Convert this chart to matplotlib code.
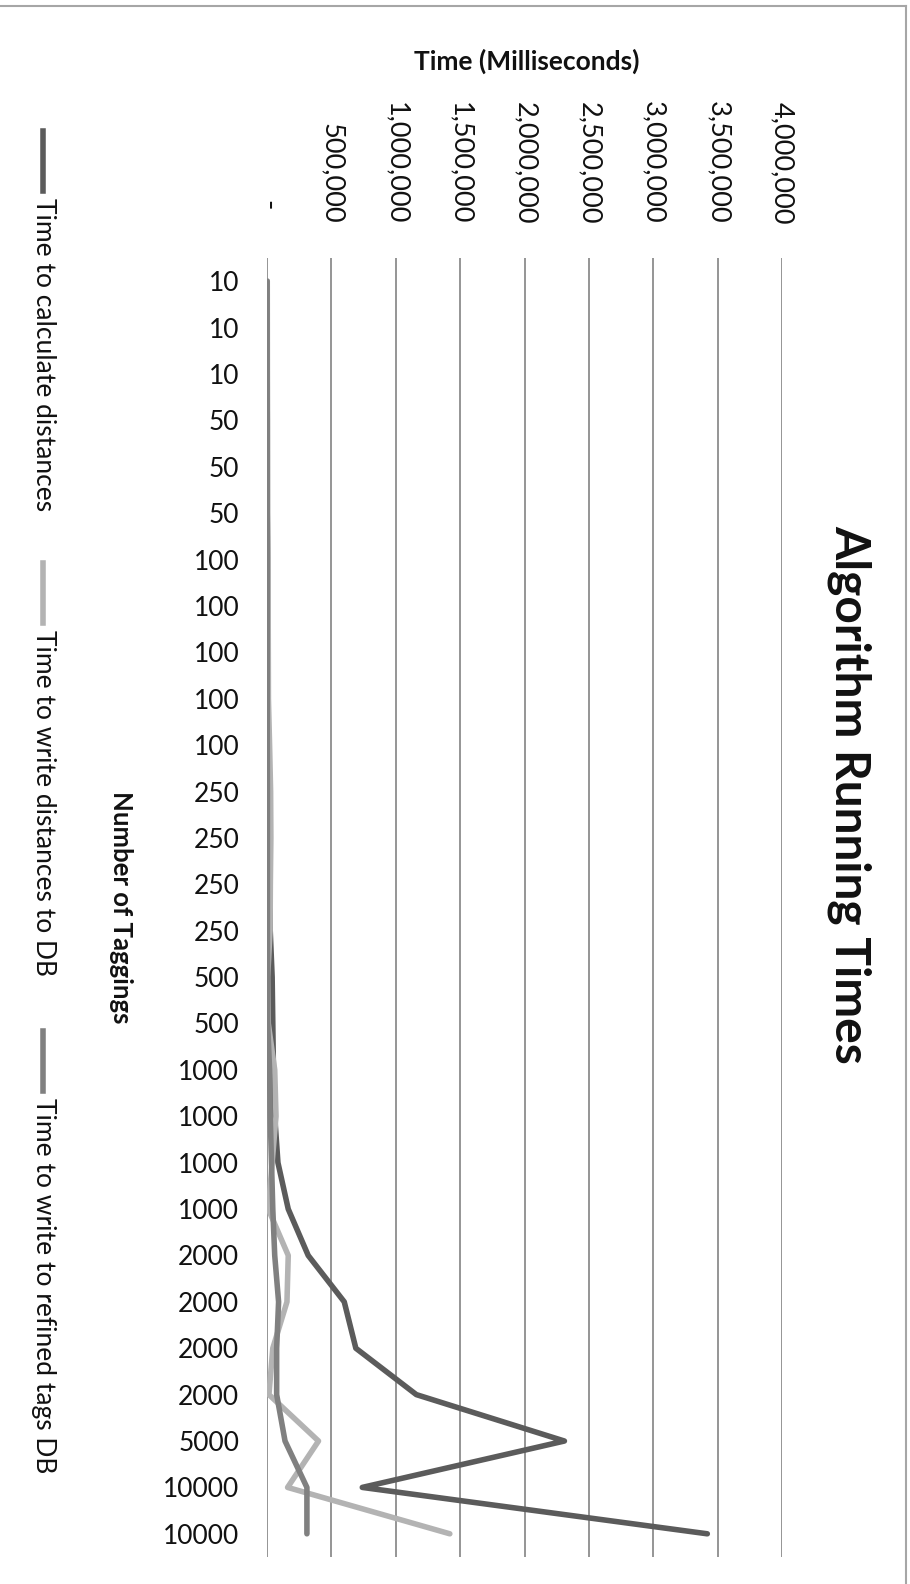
import matplotlib
matplotlib.use("Agg")
import matplotlib.pyplot as plt
import matplotlib.transforms as mtransforms
from matplotlib.lines import Line2D

plt.rcParams["font.family"] = ["Lato", "DejaVu Sans"]

# Number of taggings per run (category axis)
taggings = ["10", "10", "10", "50", "50", "50",
            "100", "100", "100", "100", "100",
            "250", "250", "250", "250", "500", "500",
            "1000", "1000", "1000", "1000",
            "2000", "2000", "2000", "2000",
            "5000", "10000", "10000"]

# Running times in milliseconds
calc_distances = [500, 600, 700, 2000, 2100, 2200,
                  5000, 5200, 5400, 5100, 5300,
                  20000, 22000, 24000, 25000, 40000, 45000,
                  50000, 60000, 85000, 165000,
                  320000, 600000, 690000, 1160000,
                  2310000, 740000, 3420000]
write_distances = [2000, 2500, 3000, 4000, 4500, 5000,
                   8000, 9000, 10000, 11000, 20000,
                   28000, 30000, 26000, 24000, 5000, 10000,
                   60000, 70000, 40000, 10000,
                   165000, 155000, 45000, 15000,
                   400000, 160000, 1420000]
write_refined = [1000, 1000, 1000, 1500, 1500, 1500,
                 2000, 2000, 2000, 2000, 2000,
                 3000, 3000, 3000, 3000, 5000, 5000,
                 20000, 25000, 35000, 45000,
                 60000, 90000, 75000, 75000,
                 140000, 310000, 310000]

series_names = ["Time to calculate distances",
                "Time to write distances to DB",
                "Time to write to refined tags DB"]
series_colors = ["#5b5b5b", "#b3b3b3", "#808080"]

value_ticks = [0, 500000, 1000000, 1500000, 2000000,
               2500000, 3000000, 3500000, 4000000]

W, H = 910, 1584
fig = plt.figure(figsize=(W / 100, H / 100), dpi=100)
fig.patch.set_facecolor("white")


def fx(px):
    return px / W


def fy(py):
    return 1 - py / H


# plot area
left, right, top, bottom = 267, 782, 258, 1557
ax = fig.add_axes([fx(left), fy(bottom), (right - left) / W, (bottom - top) / H])
ax.set_xlim(0, 4000000)
n = len(taggings)
ax.set_ylim(n - 0.5, -0.5)
for s in ax.spines.values():
    s.set_visible(False)

ax.set_xticks(value_ticks)
ax.xaxis.grid(True, color="#8c8c8c", linewidth=1.3)
ax.set_axisbelow(True)
ax.tick_params(axis="x", length=0, labelbottom=False, labeltop=False)

ys = list(range(n))
for vals, col in zip([calc_distances, write_distances, write_refined], series_colors):
    ax.plot(vals, ys, color=col, linewidth=4.0,
            solid_joinstyle="round", solid_capstyle="round", zorder=3)

ax.set_yticks(ys)
ax.set_yticklabels(taggings, fontsize=19, color="#111111")
ax.tick_params(axis="y", length=0, pad=20)

# value axis labels, read top to bottom
blend = mtransforms.blended_transform_factory(ax.transData, fig.transFigure)
for v in value_ticks:
    if v == 0:
        ax.text(v, fy(205), "-", transform=blend, rotation=270,
                ha="center", va="center", fontsize=20, color="#111111")
    else:
        ax.text(v, fy(224), f"{v:,}", transform=blend, rotation=270,
                ha="center", va="bottom", fontsize=19.5, color="#111111")

# axis titles
fig.text(fx(527), fy(61), "Time (Milliseconds)", ha="center", va="center",
         fontsize=19, fontweight="bold", color="#111111")
fig.text(fx(121), fy(907), "Number of Taggings", ha="center", va="center",
         rotation=270, fontsize=18.5, fontweight="bold", color="#111111")

# chart title
fig.text(fx(850), fy(794), "Algorithm Running Times", ha="center", va="center",
         rotation=270, fontsize=34.5, fontweight="bold", color="#111111")

# legend entries
legend_pos = [(131, 191, 198), (563, 623, 630), (1031, 1091, 1098)]
for name, col, (y0, y1, yt) in zip(series_names, series_colors, legend_pos):
    fig.add_artist(Line2D([fx(43), fx(43)], [fy(y0), fy(y1)], color=col,
                          linewidth=4.0, transform=fig.transFigure))
    fig.text(fx(43), fy(yt), name, ha="center", va="top", rotation=270,
             fontsize=19, color="#111111")

# chart area border
fig.add_artist(Line2D([0, fx(906)], [fy(6), fy(6)], color="#a6a6a6",
                      linewidth=1.5, transform=fig.transFigure))
fig.add_artist(Line2D([fx(906), fx(906)], [fy(6), 0], color="#a6a6a6",
                      linewidth=1.5, transform=fig.transFigure))

fig.savefig("out.png", dpi=100, facecolor="white")
